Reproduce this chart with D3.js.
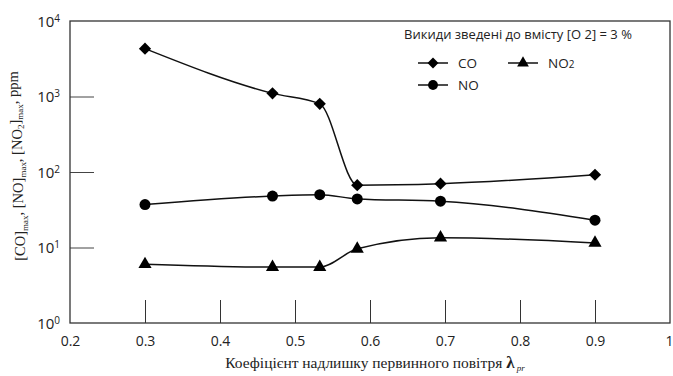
<!DOCTYPE html>
<html>
<head>
<meta charset="utf-8">
<script src="https://cdn.jsdelivr.net/npm/d3@7"></script>
<style>
  body { margin: 0; background: #fff; }
  svg { display: block; }
  .tick text { font-family: "Open Sans", sans-serif; font-size: 14px; fill: #222; }
</style>
</head>
<body>
<svg id="chart" width="673" height="376"></svg>
<script>
// data
const lambda = [0.3, 0.47, 0.533, 0.583, 0.694, 0.9];
const co_vals = [4300, 1100, 800, 67, 70, 92];
const no_vals = [37, 48, 50, 44, 41, 23];
const no2_vals = [6.0, 5.5, 5.5, 9.6, 13.5, 11.5];
const x_ticks = [0.2, 0.3, 0.4, 0.5, 0.6, 0.7, 0.8, 0.9, 1];
const y_ticks = [1, 10, 100, 1000, 10000];

const svg = d3.select("#chart");
const margin = {top: 21, right: 3, bottom: 53, left: 70};
const W = 673, H = 376;

var x = d3.scaleLinear().domain([0.2, 1]).range([margin.left, W - margin.right]);
var y = d3.scaleLog().domain([1, 10000]).range([H - margin.bottom, margin.top]);

// x axis, ticks pointing inward
var xAxis = svg.append("g")
  .attr("transform", "translate(0," + (H - margin.bottom) + ")")
  .call(d3.axisBottom(x).tickValues(x_ticks).tickSize(-23).tickPadding(8)
    .tickFormat(d => d == 1 ? "1" : d3.format(".1f")(d)));
xAxis.select(".domain").remove();
xAxis.selectAll(".tick line").attr("stroke", "#333")
  .attr("display", d => (d == 0.2 || d == 1) ? "none" : null);
xAxis.selectAll(".tick text").attr("dy", "1.1em")
  .attr("dx", d => d == 1 ? "-1px" : null);

// y axis
var yAxis = svg.append("g")
  .attr("transform", "translate(" + margin.left + ",0)")
  .call(d3.axisLeft(y).tickValues(y_ticks).tickSize(-24).tickPadding(10).tickFormat(""));
yAxis.select(".domain").remove();
yAxis.selectAll(".tick line").attr("stroke", "#444")
  .attr("display", d => (d == 1 || d == 10000) ? "none" : null);
yAxis.selectAll(".tick text").each(function(d) {
  var t = d3.select(this).attr("dy", "0.35em").style("font-size", "15px");
  t.append("tspan").text("10");
  t.append("tspan").attr("dy", "-0.5em").attr("font-size", "10px").text(Math.round(Math.log10(d)));
});

// frame
svg.append("rect")
  .attr("x", margin.left).attr("y", margin.top)
  .attr("width", W - margin.right - margin.left)
  .attr("height", H - margin.bottom - margin.top)
  .attr("fill", "none").attr("stroke", "#333").attr("stroke-width", 1.3);

// lines
var line = d3.line()
  .x(d => x(d[0])).y(d => y(d[1]))
  .curve(d3.curveMonotoneX);

const series = [
  {name: "CO", vals: co_vals, mark: d3.symbolDiamond2, size: 95},
  {name: "NO", vals: no_vals, mark: d3.symbolCircle, size: 95},
  {name: "NO2", vals: no2_vals, mark: d3.symbolTriangle, size: 75}
];

series.forEach(function(s) {
  var pts = lambda.map((l, i) => [l, s.vals[i]]);
  svg.append("path")
    .attr("d", line(pts))
    .attr("fill", "none")
    .attr("stroke", "#111")
    .attr("stroke-width", 1.5);
  svg.append("g").selectAll("path")
    .data(pts).enter().append("path")
    .attr("transform", d => "translate(" + x(d[0]) + "," + y(d[1]) + ")")
    .attr("d", d3.symbol().type(s.mark).size(s.size))
    .attr("fill", "#000");
});

// legend
svg.append("text")
  .attr("x", 518).attr("y", 39)
  .attr("text-anchor", "middle")
  .attr("font-family", "Open Sans, sans-serif")
  .attr("font-size", "13px")
  .attr("fill", "#222")
  .text("Викиди зведені до вмісту [O 2] = 3 %");

const legend_pos = [[418, 63], [418, 85], [508, 63]];
const legend_order = [0, 1, 2];
legend_order.forEach(function(k, j) {
  var s = series[k], p = legend_pos[j];
  var g = svg.append("g").attr("transform", "translate(" + p[0] + "," + p[1] + ")");
  g.append("line").attr("x1", 0).attr("x2", 30).attr("y1", 0).attr("y2", 0)
    .attr("stroke", "#111").attr("stroke-width", 1.5);
  g.append("path").attr("transform", "translate(15,0)")
    .attr("d", d3.symbol().type(s.mark).size(s.size * 0.8)).attr("fill", "#000");
  var t = g.append("text").attr("x", 40).attr("y", 5)
    .attr("font-family", "Open Sans, sans-serif").attr("font-size", "13.5px").attr("fill", "#222");
  if (s.name == "NO2") {
    t.append("tspan").text("NO");
    t.append("tspan").attr("font-size", "10px").text("2");
  } else {
    t.text(s.name);
  }
});

// axis titles
var xt = svg.append("text")
  .attr("x", 375).attr("y", 368)
  .attr("text-anchor", "middle")
  .attr("font-family", "Liberation Serif, serif")
  .attr("font-size", "15.5px").attr("fill", "#222");
xt.append("tspan").text("Коефіцієнт надлишку первинного повітря ");
xt.append("tspan").attr("font-weight", "bold").attr("font-size", "17px").text("λ");
xt.append("tspan").attr("dy", "0.35em").attr("font-size", "9px").attr("font-style", "italic").text(" pr");

var yt = svg.append("text")
  .attr("transform", "translate(25,166) rotate(-90)")
  .attr("text-anchor", "middle")
  .attr("font-family", "Liberation Serif, serif")
  .attr("font-size", "14.5px").attr("fill", "#222");
yt.append("tspan").text("[CO]");
yt.append("tspan").attr("font-size", "9px").attr("dy", "0.3em").text("max");
yt.append("tspan").attr("dy", "-0.3em").text(", [NO]");
yt.append("tspan").attr("font-size", "9px").attr("dy", "0.3em").text("max");
yt.append("tspan").attr("dy", "-0.3em").text(", [NO");
yt.append("tspan").attr("font-size", "9px").attr("dy", "0.3em").text("2");
yt.append("tspan").attr("dy", "-0.3em").text("]");
yt.append("tspan").attr("font-size", "9px").attr("dy", "0.3em").text("max");
yt.append("tspan").attr("dy", "-0.3em").text(", ppm");
</script>
</body>
</html>
